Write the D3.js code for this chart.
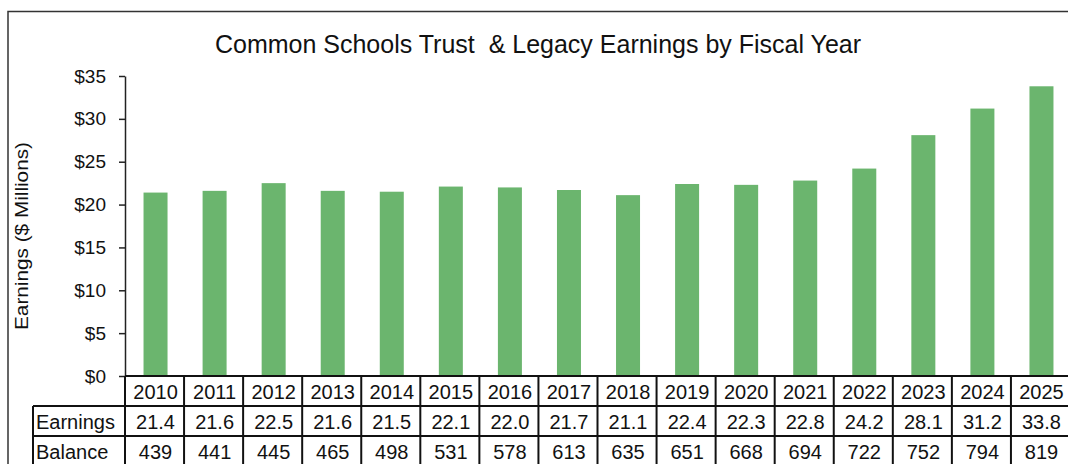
<!DOCTYPE html>
<html>
<head>
<meta charset="utf-8">
<script src="https://cdn.jsdelivr.net/npm/d3@7"></script>
<style>
  body { margin: 0; background: #fff; overflow: hidden; }
  svg { font-family: "Liberation Sans", Arial, sans-serif; }
</style>
</head>
<body>
<div id="chart"></div>
<script>
// Fiscal years and table rows
const years = ["2010", "2011", "2012", "2013", "2014", "2015", "2016", "2017",
               "2018", "2019", "2020", "2021", "2022", "2023", "2024", "2025"];
const earnings = [21.4, 21.6, 22.5, 21.6, 21.5, 22.1, 22.0, 21.7,
                  21.1, 22.4, 22.3, 22.8, 24.2, 28.1, 31.2, 33.8];
const balance = [439, 441, 445, 465, 498, 531, 578, 613,
                 635, 651, 668, 694, 722, 752, 794, 819];
const yTicks = [0, 5, 10, 15, 20, 25, 30, 35];

const width = 1068;
const height = 464;
const margins = { top: 76, left: 125, right: -2, bottom: 88 };
const rowH = 30;
const labelX = 33;

const svg = d3.select("#chart").append("svg")
    .attr("width", width)
    .attr("height", height);

// outer frame (cut off at right/bottom like the source)
svg.append("path")
    .attr("d", "M8," + height + "V11.5H" + width)
    .attr("fill", "none")
    .attr("stroke", "#333")
    .attr("stroke-width", 1.5);

const xScale = d3.scaleBand()
    .domain(years)
    .range([margins.left, width - margins.right])
    .paddingInner(0);

const yScale = d3.scaleLinear()
    .domain([0, 35])
    .range([height - margins.bottom, margins.top]);

const barW = 24;

// bars
svg.selectAll("rect.bar")
    .data(earnings)
    .enter().append("rect")
    .attr("class", "bar")
    .attr("x", (d, i) => xScale(years[i]) + xScale.bandwidth() / 2 - barW / 2 + 1)
    .attr("y", d => yScale(d))
    .attr("width", barW)
    .attr("height", d => yScale(0) - yScale(d))
    .attr("fill", "#6bb56e");

// y axis
const yAxis = svg.append("g")
    .attr("transform", "translate(" + margins.left + ",0)")
    .call(d3.axisLeft(yScale).tickValues(yTicks).tickSize(6).tickSizeOuter(0)
        .tickFormat(d => "$" + d));
yAxis.select(".domain").attr("stroke", "#222").attr("stroke-width", 1.5);
yAxis.selectAll(".tick line").attr("stroke", "#222").attr("stroke-width", 1.5);
yAxis.selectAll(".tick text")
    .attr("x", -19)
    .style("font-size", "19px")
    .style("fill", "#111")
    .attr("font-family", "Liberation Sans, Arial, sans-serif");

// title
svg.append("text")
    .attr("x", 538)
    .attr("y", 53)
    .attr("text-anchor", "middle")
    .style("font-size", "25px")
    .style("fill", "#111")
    .style("white-space", "pre")
    .text("Common Schools Trust  & Legacy Earnings by Fiscal Year");

// y label
svg.append("text")
    .attr("transform", "translate(28," + 236 + ") rotate(-90)")
    .attr("text-anchor", "middle")
    .attr("textLength", 188)
    .attr("lengthAdjust", "spacingAndGlyphs")
    .style("font-size", "18px")
    .style("fill", "#111")
    .text("Earnings ($ Millions)");

// data table under the x axis
const y0 = yScale(0);
const table = svg.append("g");
const rows = [
  { label: null, values: years },
  { label: "Earnings", values: earnings.map(d => d.toFixed(1)) },
  { label: "Balance", values: balance.map(String) }
];

const lineStyle = sel => sel.attr("stroke", "#111").attr("stroke-width", 2);

// horizontal lines
table.append("line").call(lineStyle)
    .attr("x1", margins.left).attr("x2", width).attr("y1", y0).attr("y2", y0);
[1, 2].forEach(r => {
  table.append("line").call(lineStyle)
      .attr("x1", labelX).attr("x2", width)
      .attr("y1", y0 + r * rowH).attr("y2", y0 + r * rowH);
});
table.append("line").call(lineStyle)
    .attr("x1", labelX).attr("x2", labelX)
    .attr("y1", y0 + rowH).attr("y2", height);

// vertical lines between columns
table.selectAll("line.col")
    .data(years)
    .enter().append("line")
    .attr("class", "col")
    .call(lineStyle)
    .attr("x1", d => xScale(d)).attr("x2", d => xScale(d))
    .attr("y1", y0).attr("y2", height);

rows.forEach((row, r) => {
  const cy = y0 + r * rowH + rowH / 2 + 1;
  if (row.label) {
    table.append("text")
        .attr("x", labelX + 3)
        .attr("y", cy)
        .attr("dy", "0.35em")
        .style("font-size", "20px")
        .style("fill", "#111")
        .text(row.label);
  }
  table.selectAll("text.r" + r)
      .data(row.values)
      .enter().append("text")
      .attr("class", "r" + r)
      .attr("x", (d, i) => xScale(years[i]) + xScale.bandwidth() / 2 + 1)
      .attr("y", cy)
      .attr("dy", "0.35em")
      .attr("text-anchor", "middle")
      .style("font-size", "20px")
      .style("fill", "#111")
      .text(d => d);
});
</script>
</body>
</html>
